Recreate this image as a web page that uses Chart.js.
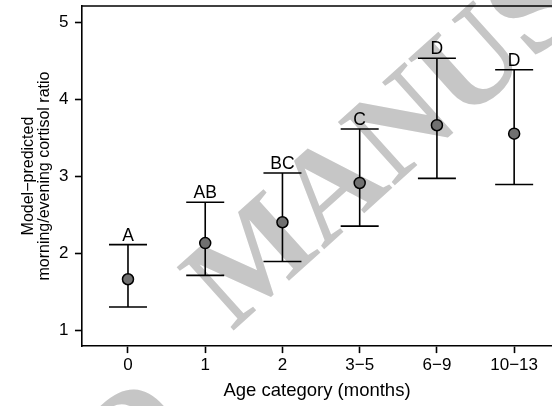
<!DOCTYPE html>
<html>
<head>
<meta charset="utf-8">
<script src="https://cdn.jsdelivr.net/npm/chart.js@4.4.0/dist/chart.umd.min.js"></script>
<style>
body { margin: 0; background: #fff; }
</style>
</head>
<body>
<canvas id="cortisolChart" width="552" height="406"></canvas>
<script>
// Dados do gráfico
var categorias = ["0", "1", "2", "3\u22125", "6\u22129", "10\u221213"];
var media = [1.66, 2.13, 2.40, 2.91, 3.66, 3.55];
var limiteInferior = [1.30, 1.71, 1.89, 2.35, 2.97, 2.89];
var limiteSuperior = [2.11, 2.66, 3.04, 3.61, 4.53, 4.38];
var letras = ["A", "AB", "BC", "C", "D", "D"];
var ticksY = [1, 2, 3, 4, 5];

var fonte = "'Liberation Sans', Arial, sans-serif";

// Marca d'água (fica por baixo dos eixos)
var marcaAgua = {
    id: "marcaAgua",
    beforeDraw: function (chart) {
        var ctx = chart.ctx;
        ctx.save();
        ctx.fillStyle = "#fff";
        ctx.fillRect(0, 0, chart.width, chart.height);
        ctx.translate(232, 332);
        ctx.rotate(-42 * Math.PI / 180);
        ctx.fillStyle = "#c6c6c6";
        ctx.font = "bold 130px 'Liberation Serif', serif";
        ctx.fillText("MANUSCRIPT", 0, 0);
        ctx.textAlign = "right";
        ctx.fillText("ACCEPTED", -94, 52);
        ctx.restore();
    }
};

// Barras de erro, letras e linha de cima
var barrasErro = {
    id: "barrasErro",
    beforeDatasetsDraw: function (chart) {
        var ctx = chart.ctx;
        var x = chart.scales.x;
        var y = chart.scales.y;
        ctx.save();
        ctx.strokeStyle = "#000";
        ctx.lineWidth = 1.6;
        ctx.fillStyle = "#000";
        ctx.font = "17.5px " + fonte;
        ctx.textAlign = "center";
        ctx.textBaseline = "alphabetic";
        for (var i = 0; i < media.length; i++) {
            var px = x.getPixelForValue(i);
            var yLo = y.getPixelForValue(limiteInferior[i]);
            var yHi = y.getPixelForValue(limiteSuperior[i]);
            var meia = 19;
            ctx.beginPath();
            ctx.moveTo(px, yLo);
            ctx.lineTo(px, yHi);
            ctx.moveTo(px - meia, yLo);
            ctx.lineTo(px + meia, yLo);
            ctx.moveTo(px - meia, yHi);
            ctx.lineTo(px + meia, yHi);
            ctx.stroke();
            ctx.fillText(letras[i], px, yHi - 4);
        }
        var a = chart.chartArea;
        ctx.beginPath();
        ctx.moveTo(a.left, a.top);
        ctx.lineTo(chart.width, a.top);
        ctx.stroke();
        ctx.restore();
    }
};

function semPadding(scale) {
    scale.paddingTop = 0;
    scale.paddingBottom = 0;
    scale.paddingLeft = 0;
    scale.paddingRight = 0;
}

var ctx = document.getElementById("cortisolChart").getContext("2d");
var grafico = new Chart(ctx, {
    type: "scatter",
    data: {
        datasets: [{
            data: media.map(function (v, i) { return { x: i, y: v }; }),
            pointRadius: 5.5,
            pointHoverRadius: 5.5,
            backgroundColor: "#707070",
            borderColor: "#000",
            borderWidth: 1.5
        }]
    },
    options: {
        responsive: false,
        animation: false,
        layout: { autoPadding: false, padding: { top: 6, left: 20.5, right: 0, bottom: 3.9 } },
        plugins: {
            legend: { display: false },
            tooltip: { enabled: false }
        },
        scales: {
            x: {
                type: "linear",
                min: -0.596,
                max: 5.49,
                afterBuildTicks: function (scale) {
                    scale.ticks = categorias.map(function (c, i) { return { value: i }; });
                },
                afterFit: semPadding,
                ticks: {
                    color: "#000",
                    font: { size: 17, family: fonte },
                    padding: 2.2,
                    maxRotation: 0,
                    callback: function (v) { return categorias[v]; }
                },
                grid: { drawOnChartArea: false, tickLength: 7, tickColor: "#000", tickWidth: 1.6 },
                border: { color: "#000", width: 1.6 },
                title: {
                    display: true,
                    text: "Age category (months)",
                    color: "#000",
                    font: { size: 18.5, family: fonte },
                    padding: { top: 2, bottom: 0 }
                }
            },
            y: {
                min: 0.792,
                max: 5.208,
                afterBuildTicks: function (scale) {
                    scale.ticks = ticksY.map(function (v) { return { value: v }; });
                },
                afterFit: semPadding,
                ticks: {
                    color: "#000",
                    font: { size: 17, family: fonte },
                    padding: 6.5
                },
                grid: { drawOnChartArea: false, tickLength: 7, tickColor: "#000", tickWidth: 1.6 },
                border: { color: "#000", width: 1.6 },
                title: {
                    display: true,
                    text: ["Model\u2212predicted", "morning/evening cortisol ratio"],
                    color: "#000",
                    font: { size: 16, family: fonte, lineHeight: 1.0 },
                    padding: { top: 0, bottom: 0 }
                }
            }
        }
    },
    plugins: [marcaAgua, barrasErro]
});
</script>
</body>
</html>
